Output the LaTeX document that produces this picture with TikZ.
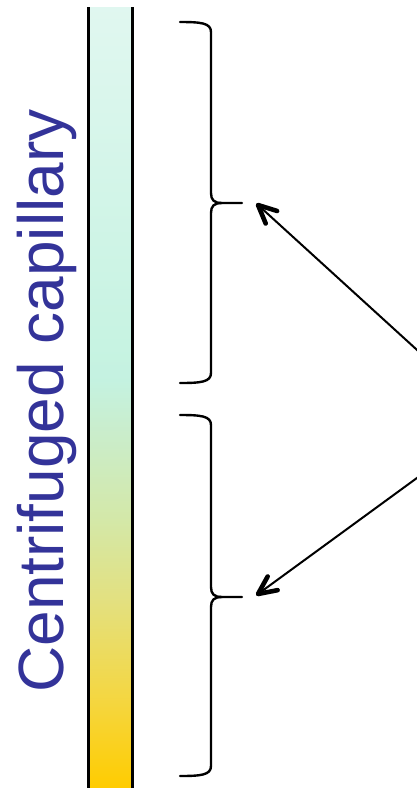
\documentclass[tikz,border=0pt]{standalone}
\usepackage{fontspec}
\setmainfont{Liberation Sans}
\usetikzlibrary{calc}
\definecolor{labelblue}{RGB}{51,51,153}
\pgfdeclareverticalshading{capgrad}{100bp}{rgb(0bp)=(1,0.8,0); rgb(25bp)=(1,0.8,0); rgb(30.6bp)=(0.96,0.84,0.25); rgb(37bp)=(0.89,0.88,0.50); rgb(42.2bp)=(0.83,0.91,0.66); rgb(47.9bp)=(0.79,0.93,0.80); rgb(51.1bp)=(0.77,0.95,0.88); rgb(75bp)=(0.88,0.97,0.94); rgb(100bp)=(0.88,0.97,0.94)}
\tikzset{
  bracestyle/.style={draw=black, line width=2.4pt, line cap=round, line join=round},
  capwall/.style={draw=black, line width=3pt},
  pointer/.style={draw=black, line width=2pt},
  barb/.style={draw=black, line width=4.6pt, line cap=round, line join=round},
  captext/.style={font=\fontsize{64}{70}\selectfont, text=labelblue, inner sep=0pt}
}
\begin{document}
\begin{tikzpicture}[x=1pt,y=-1pt]
\useasboundingbox (0,0) rectangle (417,788);
\clip (0,0) rectangle (417,788);
% capillary
\shade[shading=capgrad] (90,7) rectangle (132,788);
\draw[capwall] (88.5,7) -- (88.5,790);
\draw[capwall] (132.5,7) -- (132.5,790);
% label
\node[captext, rotate=90, anchor=base] (lbl) at (63,401) {Centrifuged capillary};
% upper brace
\draw[bracestyle] (180,22) .. controls (201,22) and (211,23) .. (211,32) -- (211,193) .. controls (211,200) and (214,203) .. (222,203) -- (242,203);
\draw[bracestyle] (222,203) .. controls (214,203) and (211,206) .. (211,213) -- (211,373) .. controls (211,382) and (201,383) .. (180,383);
% lower brace
\draw[bracestyle] (180,415) .. controls (201,415) and (211,416) .. (211,425) -- (211,587) .. controls (211,594) and (214,597) .. (222,597) -- (242,597);
\draw[bracestyle] (222,597) .. controls (214,597) and (211,600) .. (211,607) -- (211,766) .. controls (211,775) and (201,776) .. (180,776);
% arrows
\coordinate (src) at (495,421);
\coordinate (t1) at (258,205);
\coordinate (t2) at (258,594);
\draw[pointer] (src) -- ($(t1)!1pt!(src)$);
\draw[pointer] (src) -- ($(t2)!1pt!(src)$);
\draw[barb] ($(t1)!20pt!25:(src)$) -- (t1) -- ($(t1)!20pt!-25:(src)$);
\draw[barb] ($(t2)!20pt!25:(src)$) -- (t2) -- ($(t2)!20pt!-25:(src)$);
\end{tikzpicture}
\end{document}
